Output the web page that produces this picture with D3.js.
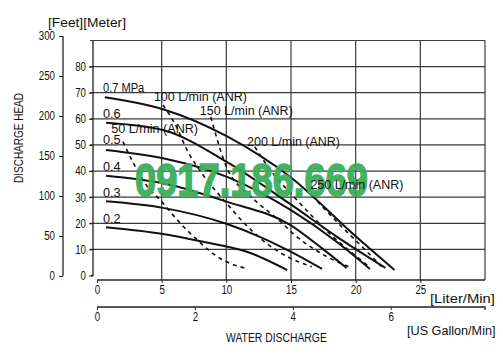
<!DOCTYPE html>
<html>
<head>
<meta charset="utf-8">
<script src="https://cdn.jsdelivr.net/npm/d3@7"></script>
<style>
  html, body { margin: 0; padding: 0; background: #fff; }
  svg { display: block; }
  text { font-family: "Liberation Sans", Arial, "DejaVu Sans", sans-serif; fill: #111; }
</style>
</head>
<body>
<svg id="chart" width="503" height="357"></svg>
<script>
// ---------- DATA (flow in L/min, head in m) ----------
const meterTicks = [0, 10, 20, 30, 40, 50, 60, 70, 80];
const feetTicks = [0, 50, 100, 150, 200, 250, 300];
const literTicks = [0, 5, 10, 15, 20, 25];
const gallonTicks = [0, 2, 4, 6];

const pressureLabels = ["0.7 MPa", "0.6", "0.5", "0.4", "0.3", "0.2"];
const labelHeads = [70, 60, 50, 40, 30, 20];

const p07 = [[0.6,68.3],[5.1,63.7],[10.1,53.2],[14.9,37.9],[20,15],[23.0,2.1]];
const p06 = [[0.7,58.5],[5.1,55.7],[10.0,43.6],[14.9,27.5],[18.5,15],[22.3,2.9]];
const p05 = [[0.7,48.1],[5.1,44.9],[10.2,37.5],[15,25],[18.5,13],[21.1,2.5]];
const p04 = [[0.7,38.2],[5.1,35.3],[10,28.3],[14.9,19.5],[17.5,10],[19.3,2.9]];
const p03 = [[0.7,28.4],[5.1,25.9],[10,19.8],[12.5,15],[14.9,9.3],[17.4,2.5]];
const p02 = [[0.7,18.5],[5.1,15.9],[8.2,12.9],[11.7,8.9],[14.7,2.1]];
const pressureCurves = [p07, p06, p05, p04, p03, p02];

const airLabels = ["50 L/min (ANR)", "100 L/min (ANR)", "150 L/min (ANR)", "200 L/min (ANR)", "250 L/min (ANR)"];
const air50  = [[2.0,51.3],[2.9,42.3],[3.8,34.7],[5.0,28.3],[6.2,21.3],[7.6,14.3],[9.5,6.6],[11.45,2.8]];
const air100 = [[5.1,65.3],[6.2,56.4],[6.9,48.7],[8.2,38.5],[9.8,28.9],[11.3,20.5],[12.8,13.5],[14.8,7],[16.6,3.4]];
const air150 = [[8.8,60.7],[10.0,41.7],[11.8,30.8],[14.2,20.6],[15.3,15.5],[17.5,8],[19.7,2.9]];
const air200 = [[12.2,49.3],[13.0,43.2],[13.8,37.9],[15.1,30.8],[18,16],[21,3.6]];
const air250 = [[16.2,33],[17.5,26],[18.8,19.3],[20.5,11],[22.1,2.9]];
const airCurves = [air50, air100, air150, air200, air250];

const watermark = "0917.186.669";

// ---------- SCALES ----------
const svg = d3.select("#chart");
const x = d3.scaleLinear().domain([0, 30]).range([97, 485]);
const y = d3.scaleLinear().domain([0, 90]).range([275.5, 40.5]);
const yFeet = d3.scaleLinear().domain([0, 300]).range([276, 36]);
const xGal = d3.scaleLinear().domain([0, 30 / 3.785]).range([97, 485]);

function label(t, px, py, cw, size) {
  return svg.append("text").attr("x", px).attr("y", py).text(t)
    .style("font-size", (size || 12) + "px")
    .attr("textLength", t.length * cw).attr("lengthAdjust", "spacingAndGlyphs");
}
function styleTicks(g) {
  g.selectAll("text").style("font-size", "12px").attr("fill", "#111")
    .attr("textLength", function () { return this.textContent.length * 5.4; })
    .attr("lengthAdjust", "spacingAndGlyphs");
  g.selectAll(".tick line").attr("stroke", "#222");
}

// ---------- GRID ----------
const grid = svg.append("g").attr("stroke", "#3a3a3a").attr("stroke-width", 1.2);
[10,20,30,40,50,60,70,80,90].forEach(m => {
  grid.append("line").attr("x1", 90).attr("x2", x(30)).attr("y1", y(m)).attr("y2", y(m));
});
[5,10,15,20,25,30].forEach(l => {
  grid.append("line").attr("x1", x(l)).attr("x2", x(l)).attr("y1", y(90)).attr("y2", 280);
});

// meter axis
svg.append("g").attr("transform", "translate(93,0)")
  .call(d3.axisLeft(y).tickValues(meterTicks).tickSize(4).tickPadding(3).tickFormat(d3.format("d")))
  .call(g => g.select(".domain").attr("d", `M-2,${y(0)}H0V${y(90)}`).attr("stroke", "#222").attr("stroke-width", 1.3))
  .call(styleTicks);

// feet axis
svg.append("g").attr("transform", "translate(63,0)")
  .call(d3.axisLeft(yFeet).tickValues(feetTicks).tickSize(4).tickPadding(4).tickFormat(d3.format("d")))
  .call(g => g.select(".domain").attr("d", `M0,${yFeet(0)}V${yFeet(300)}`).attr("stroke", "#222").attr("stroke-width", 1.3))
  .call(styleTicks);

// liter axis
svg.append("g").attr("transform", "translate(0,280)")
  .call(d3.axisBottom(x).tickValues(literTicks).tickSize(3).tickPadding(2).tickFormat(d3.format("d")))
  .call(g => g.select(".domain").attr("d", `M${x(0)},0H${x(30)}`).attr("stroke", "#222").attr("stroke-width", 1.3))
  .call(styleTicks);

// gallon axis
svg.append("g").attr("transform", "translate(0,307)")
  .call(d3.axisBottom(xGal).tickValues(gallonTicks).tickSize(3).tickPadding(2).tickFormat(d3.format("d")))
  .call(g => g.select(".domain").attr("d", `M${xGal(0)},0H${x(30)}V3`).attr("stroke", "#222").attr("stroke-width", 1.3))
  .call(styleTicks);

// ---------- CURVES ----------
const line = d3.line().x(d => x(d[0])).y(d => y(d[1])).curve(d3.curveMonotoneX);

svg.append("g").selectAll("path").data(airCurves).join("path")
  .attr("d", line).attr("fill", "none").attr("stroke", "#111")
  .attr("stroke-width", 1.6).attr("stroke-dasharray", "4,4");

svg.append("g").selectAll("path").data(pressureCurves).join("path")
  .attr("d", line).attr("fill", "none").attr("stroke", "#111").attr("stroke-width", 2);

// pressure labels
pressureLabels.forEach((t, i) => label(t, 103, y(labelHeads[i]) - 0.5, 5.9));

// ---------- WATERMARK ----------
svg.append("text").attr("x", 135).attr("y", 195.5).text(watermark)
  .attr("textLength", 233).attr("lengthAdjust", "spacingAndGlyphs")
  .style("font-size", "46px").style("font-weight", "bold")
  .style("fill", "#3aae5a").style("stroke", "#3aae5a").style("stroke-width", 1.6)
  .style("opacity", 0.95);

// air labels (drawn over the watermark, as in the reference)
const airLabelPos = [[1.1, 133], [4.4, 101], [7.95, 115], [11.6, 146], [16.5, 189]];
airLabels.forEach((t, i) => label(t, x(airLabelPos[i][0]), airLabelPos[i][1], 6.2)
  .attr("fill", i === 4 ? "#555" : "#111"));

// ---------- TITLES ----------
label("[Feet][Meter]", 48, 27, 6.0);
label("[Liter/Min]", 430, 303, 5.9);
label("[US Gallon/Min]", 407, 335, 5.9);
label("WATER  DISCHARGE", 226, 342, 6.3);
label("DISCHARGE  HEAD", 0, 0, 6.0).attr("transform", "translate(22.5,183) rotate(-90)");
</script>
</body>
</html>
